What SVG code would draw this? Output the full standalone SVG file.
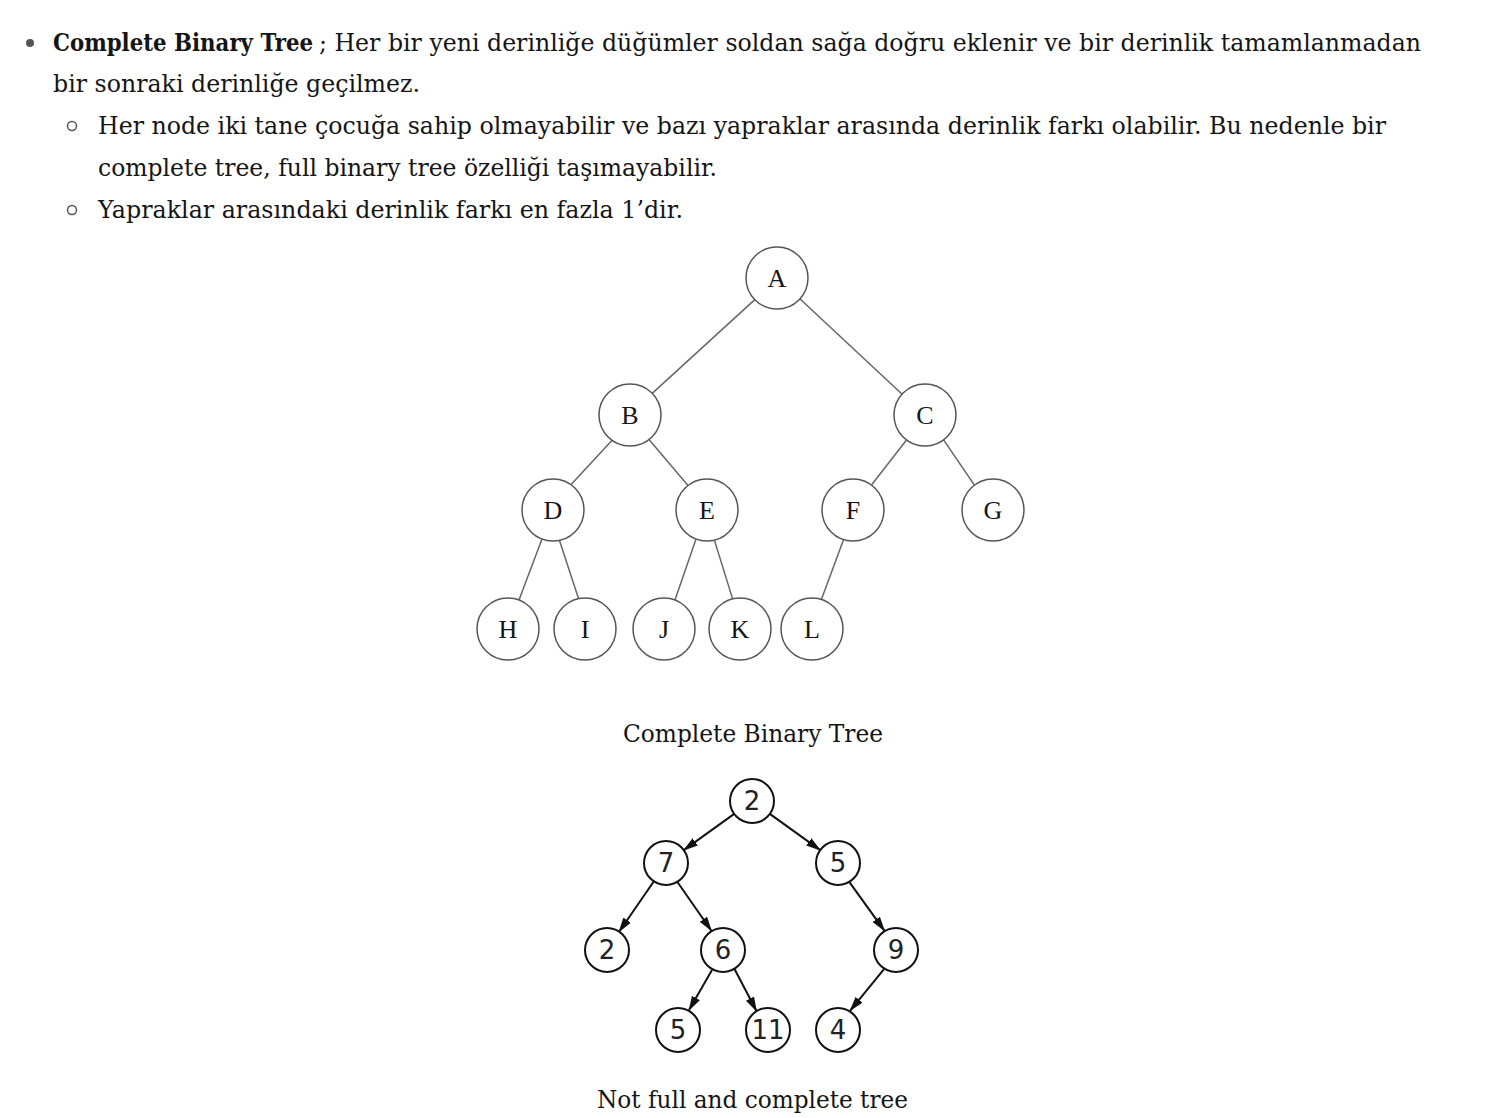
<svg xmlns="http://www.w3.org/2000/svg" width="1508" height="1118" viewBox="0 0 1508 1118">
<style>
.t{font-family:"DejaVu Serif","Liberation Serif",serif;font-size:24px;fill:#151515}
.b{font-weight:bold}
.n1 circle{fill:#fff;stroke:#555;stroke-width:1.5}
.n1 text{font-family:"Liberation Serif",serif;font-size:26px;fill:#151515;text-anchor:middle}
.n2 circle{fill:#fff;stroke:#111;stroke-width:2}
.n2 text{font-family:"DejaVu Sans",sans-serif;font-size:26px;fill:#222;text-anchor:middle}
.e1 line{stroke:#666;stroke-width:1.5}
.e2 line{stroke:#111;stroke-width:2;marker-end:url(#ah)}
</style>
<defs>
<marker id="ah" markerUnits="userSpaceOnUse" markerWidth="15" markerHeight="10" refX="14" refY="5" orient="auto">
<path d="M0,0.5 L15,5 L0,9.5 Z" fill="#111"/>
</marker>
</defs>
<rect width="1508" height="1118" fill="#fff"/>
<g id="text">
<circle cx="30" cy="43" r="4" fill="#555"/>
<circle cx="72" cy="126" r="4.5" fill="none" stroke="#555" stroke-width="1.5"/>
<circle cx="72" cy="210" r="4.5" fill="none" stroke="#555" stroke-width="1.5"/>
<text class="t" y="51"><tspan class="b" x="53" textLength="260" lengthAdjust="spacingAndGlyphs">Complete Binary Tree</tspan><tspan x="319" textLength="1102" lengthAdjust="spacingAndGlyphs">; Her bir yeni derinliğe düğümler soldan sağa doğru eklenir ve bir derinlik tamamlanmadan</tspan></text>
<text class="t" x="53" y="92" textLength="367" lengthAdjust="spacingAndGlyphs">bir sonraki derinliğe geçilmez.</text>
<text class="t" x="98" y="134" textLength="1288" lengthAdjust="spacingAndGlyphs">Her node iki tane çocuğa sahip olmayabilir ve bazı yapraklar arasında derinlik farkı olabilir. Bu nedenle bir</text>
<text class="t" x="98" y="176" textLength="619" lengthAdjust="spacingAndGlyphs">complete tree, full binary tree özelliği taşımayabilir.</text>
<text class="t" x="98" y="218" textLength="585" lengthAdjust="spacingAndGlyphs">Yapraklar arasındaki derinlik farkı en fazla 1’dir.</text>
<text class="t" x="623" y="742" textLength="260" lengthAdjust="spacingAndGlyphs">Complete Binary Tree</text>
<text class="t" x="597" y="1108" textLength="311" lengthAdjust="spacingAndGlyphs">Not full and complete tree</text>
</g>
<g id="edges1" class="e1">
<line x1="754.8" y1="299.6" x2="652.2" y2="393.4"/>
<line x1="799.8" y1="298.8" x2="902.2" y2="394.2"/>
<line x1="612.1" y1="440.3" x2="570.9" y2="484.7"/>
<line x1="649.0" y1="439.4" x2="688.0" y2="485.6"/>
<line x1="906.5" y1="440.0" x2="871.5" y2="485.0"/>
<line x1="943.6" y1="439.9" x2="974.4" y2="485.1"/>
<line x1="542.0" y1="539.0" x2="519.0" y2="600.0"/>
<line x1="559.4" y1="540.3" x2="578.6" y2="598.7"/>
<line x1="696.0" y1="539.0" x2="675.0" y2="600.0"/>
<line x1="714.4" y1="540.1" x2="732.6" y2="598.9"/>
<line x1="843.6" y1="539.6" x2="821.4" y2="599.4"/>
</g>
<g id="A" class="n1"><circle cx="777" cy="278" r="31"/><text x="777" y="287">A</text></g>
<g id="B" class="n1"><circle cx="630" cy="415" r="31"/><text x="630" y="424">B</text></g>
<g id="C" class="n1"><circle cx="925" cy="415" r="31"/><text x="925" y="424">C</text></g>
<g id="D" class="n1"><circle cx="553" cy="510" r="31"/><text x="553" y="519">D</text></g>
<g id="E" class="n1"><circle cx="707" cy="510" r="31"/><text x="707" y="519">E</text></g>
<g id="F" class="n1"><circle cx="853" cy="510" r="31"/><text x="853" y="519">F</text></g>
<g id="G" class="n1"><circle cx="993" cy="510" r="31"/><text x="993" y="519">G</text></g>
<g id="H" class="n1"><circle cx="508" cy="629" r="31"/><text x="508" y="638">H</text></g>
<g id="I" class="n1"><circle cx="585" cy="629" r="31"/><text x="585" y="638">I</text></g>
<g id="J" class="n1"><circle cx="664" cy="629" r="31"/><text x="664" y="638">J</text></g>
<g id="K" class="n1"><circle cx="740" cy="629" r="31"/><text x="740" y="638">K</text></g>
<g id="L" class="n1"><circle cx="812" cy="629" r="31"/><text x="812" y="638">L</text></g>
<g id="edges2" class="e2">
<line x1="734.2" y1="813.9" x2="683.8" y2="850.1"/>
<line x1="769.8" y1="813.9" x2="820.2" y2="850.1"/>
<line x1="653.9" y1="881.3" x2="619.1" y2="931.7"/>
<line x1="677.6" y1="882.3" x2="711.4" y2="930.7"/>
<line x1="849.6" y1="882.3" x2="884.4" y2="930.7"/>
<line x1="712.0" y1="969.9" x2="689.0" y2="1010.1"/>
<line x1="734.5" y1="969.0" x2="756.5" y2="1011.0"/>
<line x1="883.8" y1="969.4" x2="850.2" y2="1010.6"/>
</g>
<g id="t2_2a" class="n2"><circle cx="752" cy="801" r="22"/><text x="752" y="810">2</text></g>
<g id="t2_7" class="n2"><circle cx="666" cy="863" r="22"/><text x="666" y="872">7</text></g>
<g id="t2_5a" class="n2"><circle cx="838" cy="863" r="22"/><text x="838" y="872">5</text></g>
<g id="t2_2b" class="n2"><circle cx="607" cy="950" r="22"/><text x="607" y="959">2</text></g>
<g id="t2_6" class="n2"><circle cx="723" cy="950" r="22"/><text x="723" y="959">6</text></g>
<g id="t2_9" class="n2"><circle cx="896" cy="950" r="22"/><text x="896" y="959">9</text></g>
<g id="t2_5b" class="n2"><circle cx="678" cy="1030" r="22"/><text x="678" y="1039">5</text></g>
<g id="t2_11" class="n2"><circle cx="768" cy="1030" r="22"/><text x="768" y="1039">11</text></g>
<g id="t2_4" class="n2"><circle cx="838" cy="1030" r="22"/><text x="838" y="1039">4</text></g>
</svg>
